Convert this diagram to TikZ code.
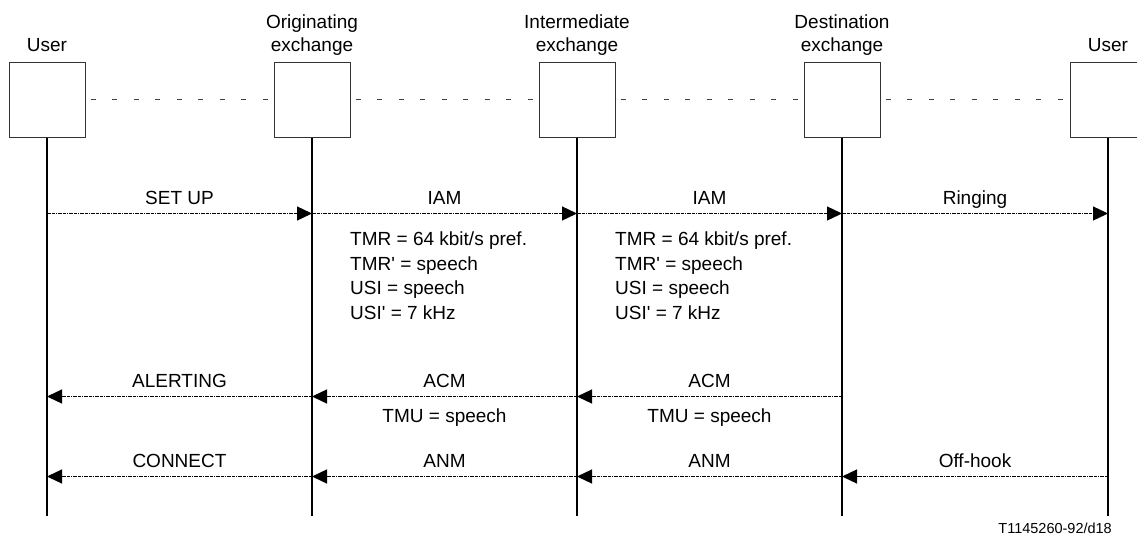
\documentclass[tikz,border=0pt]{standalone}
\usepackage{fontspec}
\setmainfont{Liberation Sans}
\usetikzlibrary{arrows.meta,positioning}

\begin{document}
\begin{tikzpicture}[x=1pt,y=-1pt]

    \tikzset{
      entity/.style={
        draw=black!80,
        line width=1pt,
        minimum width=76pt,
        minimum height=75pt,
        inner sep=0pt,
      },
      title/.style={
        align=center,
        inner sep=0pt,
        font=\fontsize{19}{23}\selectfont,
      },
      msg/.style={
        line width=1.3pt,
        dash pattern=on 3.5pt off 1pt on 3.5pt off 1pt on 1pt off 1pt,
        -{Triangle[length=15pt,width=14pt]},
      },
      tag/.style={
        inner sep=0pt,
        anchor=base,
        font=\fontsize{19}{23}\selectfont,
      },
      param/.style={
        align=left,
        inner sep=0pt,
        font=\fontsize{19}{24.7}\selectfont,
      },
      lifeline/.style={line width=2pt},
      link/.style={
        black!75,
        line width=0.8pt,
        dash pattern=on 5pt off 16.5pt,
        dash phase=16.5pt,
      },
    }
    \useasboundingbox (0,0) rectangle (1137,536);
    \clip (0,0) rectangle (1137,536);

    \node[entity] (u1) at (47,99.5) {};
    \node[entity] (oe) at (312,99.5) {};
    \node[entity] (ie) at (577,99.5) {};
    \node[entity] (de) at (842,99.5) {};
    \node[entity] (u2) at (1108,99.5) {};

    \node[title,above=9.5pt of u1] (u1-t) {User};
    \node[title,above=5.5pt of oe] (oe-t) {Originating\\exchange};
    \node[title,above=5.5pt of ie] (ie-t) {Intermediate\\exchange};
    \node[title,above=5.5pt of de] (de-t) {Destination\\exchange};
    \node[title,above=9.5pt of u2] (u2-t) {User};

    \draw[link] (u1) -- (oe) (oe) -- (ie) (ie) -- (de) (de) -- (u2);

    \foreach \n in {u1,oe,ie,de,u2} {
      \path (\n.south) ++(0,76) coordinate (\n-a)
                       ++(0,183) coordinate (\n-b)
                       ++(0,80) coordinate (\n-c)
                       ++(0,39) coordinate (\n-z);
      \draw[lifeline] (\n.south) -- (\n-z);
    }

    \draw[msg] (u1-a) -- node[tag,yshift=9pt] (m1) {SET UP} (oe-a);
    \draw[msg] (oe-a) -- node[tag,yshift=9pt] (m2) {IAM} (ie-a);
    \draw[msg] (ie-a) -- node[tag,yshift=9pt] (m3) {IAM} (de-a);
    \draw[msg] (de-a) -- node[tag,yshift=9pt] (m4) {Ringing} (u2-a);

    \node[param,below right=18pt and 38pt of oe-a] (p1)
      {TMR = 64 kbit/s pref.\\TMR\textquotesingle{} = speech\\USI = speech\\USI\textquotesingle{} = 7 kHz};
    \node[param,below right=18pt and 38pt of ie-a] (p2)
      {TMR = 64 kbit/s pref.\\TMR\textquotesingle{} = speech\\USI = speech\\USI\textquotesingle{} = 7 kHz};

    \draw[msg] (oe-b) -- node[tag,yshift=9pt] (m5) {ALERTING} (u1-b);
    \draw[msg] (ie-b) -- node[tag,yshift=9pt] (m6) {ACM}
                         node[tag,yshift=-26pt] (m6-p) {TMU = speech} (oe-b);
    \draw[msg] (de-b) -- node[tag,yshift=9pt] (m7) {ACM}
                         node[tag,yshift=-26pt] (m7-p) {TMU = speech} (ie-b);

    \draw[msg] (oe-c) -- node[tag,yshift=9pt] (m8) {CONNECT} (u1-c);
    \draw[msg] (ie-c) -- node[tag,yshift=9pt] (m9) {ANM} (oe-c);
    \draw[msg] (de-c) -- node[tag,yshift=9pt] (m10) {ANM} (ie-c);
    \draw[msg] (u2-c) -- node[tag,yshift=9pt] (m11) {Off-hook} (de-c);

    \node[anchor=base east,inner sep=0pt,font=\fontsize{14.5}{17}\selectfont]
      (ref) at (1112,533) {T1145260-92/d18};

\end{tikzpicture}
\end{document}
